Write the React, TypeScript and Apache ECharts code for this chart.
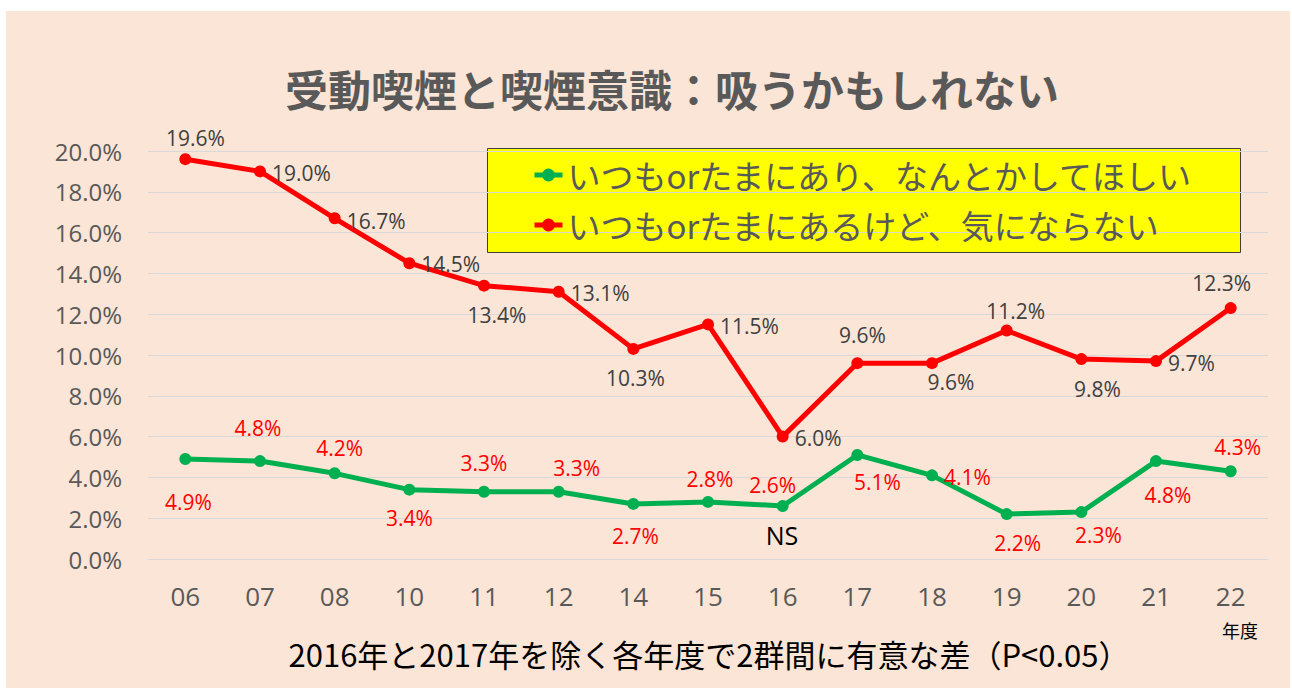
import React, { useEffect, useRef } from "react";
import * as echarts from "echarts";

const categories = ["06", "07", "08", "10", "11", "12", "14", "15", "16", "17", "18", "19", "20", "21", "22"];
const greenName = "いつもorたまにあり、なんとかしてほしい";
const redName = "いつもorたまにあるけど、気にならない";
const greenValues = [4.9, 4.8, 4.2, 3.4, 3.3, 3.3, 2.7, 2.8, 2.6, 5.1, 4.1, 2.2, 2.3, 4.8, 4.3];
const redValues = [19.6, 19.0, 16.7, 14.5, 13.4, 13.1, 10.3, 11.5, 6.0, 9.6, 9.6, 11.2, 9.8, 9.7, 12.3];
const yTicks = { min: 0, max: 20, interval: 2 };

// label placement: [position, dx, dy]
type LP = [string, number, number];
const greenLabelPos: LP[] = [
  ["inside", 3, 43], ["inside", -2, -33], ["inside", 5, -25], ["inside", 0, 28],
  ["inside", 0, -29], ["inside", 18, -24], ["inside", 2, 32], ["inside", 2, -23],
  ["inside", -10, -21], ["inside", 20, 27], ["right", 0, 2], ["inside", 11, 29],
  ["inside", 17, 23], ["inside", 12, 34], ["inside", 7, -24],
];
const redLabelPos: LP[] = [
  ["inside", 10, -21], ["right", 0, 2], ["right", 0, 3], ["right", 0, 1],
  ["inside", 13, 29], ["right", 0, 1], ["inside", 2, 29], ["right", 0, 2],
  ["right", 0, 1], ["inside", 5, -28], ["inside", 19, 19], ["inside", 9, -20],
  ["inside", 16, 30], ["right", 0, 2], ["inside", -9, -25],
];

const NUM_FONT = "'Open Sans', 'Noto Sans', sans-serif";
const JP_FONT = "'Noto Sans CJK JP', 'Noto Sans', sans-serif";

function buildData(values: number[], pos: LP[], color: string) {
  return values.map((v, i) => ({
    value: v,
    label: {
      show: true,
      position: pos[i][0],
      distance: 6,
      offset: [pos[i][1], pos[i][2]],
      color,
      fontSize: 21,
      fontFamily: NUM_FONT,
      formatter: (p: any) => p.value.toFixed(1) + "%",
    },
  }));
}

export default function App() {
  const ref = useRef<HTMLDivElement>(null);
  useEffect(() => {
    if (!ref.current) return;
    const chart = echarts.init(ref.current, undefined, { renderer: "svg" });
    chart.setOption({
      animation: false,
      backgroundColor: "#FBE5D6",
      grid: { left: 142, right: 22, top: 140, bottom: 129 },
      xAxis: {
        type: "category",
        data: categories,
        boundaryGap: true,
        axisLine: { show: true, lineStyle: { color: "#D9D9D9", width: 1 } },
        axisTick: { show: false },
        axisLabel: { color: "#595959", fontSize: 26, fontFamily: NUM_FONT, margin: 24 },
      },
      yAxis: {
        type: "value",
        min: yTicks.min,
        max: yTicks.max,
        interval: yTicks.interval,
        axisLine: { show: false },
        axisTick: { show: false },
        splitLine: { lineStyle: { color: "#D9D9D9", width: 1 } },
        axisLabel: {
          color: "#595959",
          fontSize: 24,
          fontFamily: NUM_FONT,
          margin: 26,
          formatter: (v: number) => v.toFixed(1) + "%",
        },
      },
      legend: {
        orient: "vertical",
        left: 521,
        top: 134,
        itemGap: 0,
        itemWidth: 28,
        itemHeight: 16,
        data: [greenName, redName],
        lineStyle: { width: 5 },
        textStyle: { color: "#595959", fontSize: 33, fontFamily: JP_FONT, lineHeight: 50 },
      },
      graphic: [
        {
          type: "rect",
          left: 481,
          top: 137,
          shape: { width: 753, height: 104 },
          style: { fill: "#FFFF00", stroke: "#404040", lineWidth: 1 },
          z: 0,
          zlevel: 0,
        },
        {
          type: "text",
          x: 666,
          y: 77,
          style: {
            text: "受動喫煙と喫煙意識：吸うかもしれない",
            fill: "#595959",
            font: "bold 43px 'Noto Sans CJK JP'",
            textAlign: "center",
            textVerticalAlign: "middle",
          },
        },
        {
          type: "text",
          x: 703,
          y: 642,
          style: {
            text: "2016年と2017年を除く各年度で2群間に有意な差（P<0.05）",
            fill: "#000000",
            font: "31px 'Noto Sans CJK JP'",
            textAlign: "center",
            textVerticalAlign: "middle",
          },
        },
        {
          type: "text",
          x: 1234,
          y: 619,
          style: {
            text: "年度",
            fill: "#000000",
            font: "18px 'Noto Sans CJK JP'",
            textAlign: "center",
            textVerticalAlign: "middle",
          },
        },
        {
          type: "text",
          x: 776,
          y: 524,
          style: {
            text: "NS",
            fill: "#000000",
            font: "25px 'Open Sans'",
            textAlign: "center",
            textVerticalAlign: "middle",
          },
        },
      ],
      series: [
        {
          name: redName,
          type: "line",
          data: buildData(redValues, redLabelPos, "#404040"),
          symbol: "circle",
          symbolSize: 12,
          lineStyle: { color: "#FF0000", width: 5 },
          itemStyle: { color: "#FF0000" },
          z: 3,
        },
        {
          name: greenName,
          type: "line",
          data: buildData(greenValues, greenLabelPos, "#FF0000"),
          symbol: "circle",
          symbolSize: 12,
          lineStyle: { color: "#00B050", width: 5 },
          itemStyle: { color: "#00B050" },
          z: 4,
        },
      ],
    });
    return () => chart.dispose();
  }, []);
  return (
    <div
      ref={ref}
      style={{ position: "absolute", left: 6, top: 11, width: 1284, height: 677 }}
    />
  );
}
